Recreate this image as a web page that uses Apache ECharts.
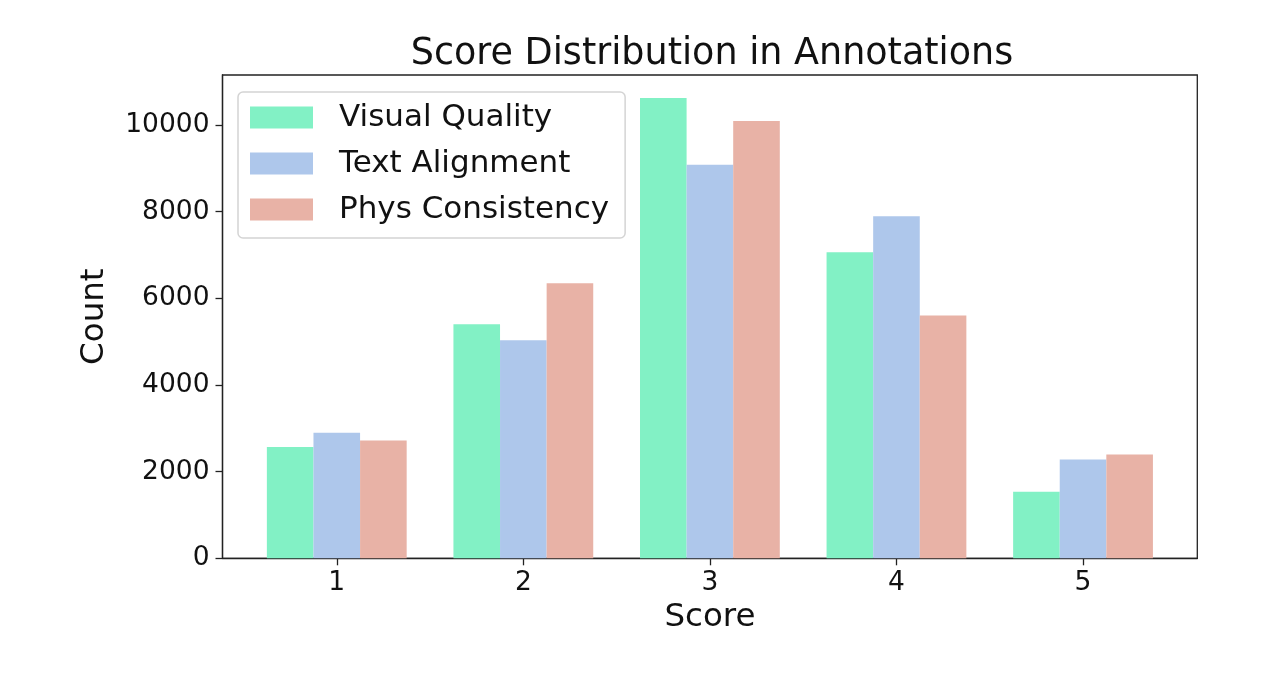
<!DOCTYPE html>
<html>
<head>
<meta charset="utf-8">
<script src="https://cdn.jsdelivr.net/npm/echarts@6/dist/echarts.min.js"></script>
<style>
  html, body { margin: 0; padding: 0; background: #fff; }
  #chartdiv { width: 1280px; height: 678px; }
</style>
</head>
<body>
<div id="chartdiv"></div>
<script>
var scores = [1, 2, 3, 4, 5];
var visualQuality = [2570, 5400, 10620, 7060, 1535];
var textAlignment = [2895, 5030, 9080, 7895, 2280];
var physConsistency = [2720, 6345, 10090, 5605, 2395];
var yTicks = [0, 2000, 4000, 6000, 8000, 10000];

var font = 'DejaVu Sans';

// value axis, so pair each score with its count
function pairs(vals) {
    var out = [];
    for (var i = 0; i < scores.length; i++) {
        out.push([scores[i], vals[i]]);
    }
    return out;
}

function makeSeries(name, vals, color) {
    return {
        name: name,
        type: 'bar',
        data: pairs(vals),
        barWidth: 46.6,
        barGap: '0%',
        itemStyle: {color: color},
        emphasis: {disabled: true}
    };
}

var dom = document.getElementById("chartdiv");
var myChart = echarts.init(dom, null, {renderer: 'canvas'});

var option = {
    backgroundColor: '#fff',
    animation: false,
    title: {
        text: 'Score Distribution in Annotations',
        left: 707,
        top: 31,
        textAlign: 'center',
        textStyle: {fontFamily: font, fontSize: 36.5, fontWeight: 'normal', color: '#111'}
    },
    legend: {
        left: 238,
        top: 92,
        orient: 'vertical',
        icon: 'rect',
        itemWidth: 63,
        itemHeight: 22,
        itemGap: 15,
        padding: [10, 16, 13, 12],
        borderColor: '#d4d4d4',
        borderWidth: 1.5,
        borderRadius: 5,
        textStyle: {fontFamily: font, fontSize: 31, color: '#111', padding: [0, 0, 0, 21]}
    },
    grid: {
        left: 222.5,
        right: 82.7,
        top: 75,
        bottom: 119.7,
        show: true,
        borderColor: '#222',
        borderWidth: 1.3
    },
    xAxis: {
        type: 'value',
        min: 0.3875,
        max: 5.6125,
        name: 'Score',
        nameLocation: 'middle',
        nameGap: 38,
        nameTextStyle: {fontFamily: font, fontSize: 32.5, color: '#111'},
        splitLine: {show: false},
        axisLine: {show: true, lineStyle: {color: '#222', width: 1.3}},
        axisTick: {show: true, length: 7, customValues: scores, lineStyle: {color: '#222', width: 1.3}},
        axisLabel: {customValues: scores, margin: 11, fontFamily: font, fontSize: 26.5, color: '#111'}
    },
    yAxis: {
        type: 'value',
        min: 0,
        max: 11153,
        name: 'Count',
        nameLocation: 'middle',
        nameGap: 111,
        nameTextStyle: {fontFamily: font, fontSize: 32.5, color: '#111'},
        splitLine: {show: false},
        axisLine: {show: true, lineStyle: {color: '#222', width: 1.3}},
        axisTick: {show: true, length: 7, customValues: yTicks, lineStyle: {color: '#222', width: 1.3}},
        axisLabel: {
            customValues: yTicks,
            margin: 13,
            fontFamily: font,
            fontSize: 26.5,
            color: '#111',
            formatter: function (v) { return String(v); }
        }
    },
    series: [
        makeSeries('Visual Quality', visualQuality, '#82f1c5'),
        makeSeries('Text Alignment', textAlignment, '#aec7eb'),
        makeSeries('Phys Consistency', physConsistency, '#e8b2a6')
    ]
};

myChart.setOption(option);
</script>
</body>
</html>
